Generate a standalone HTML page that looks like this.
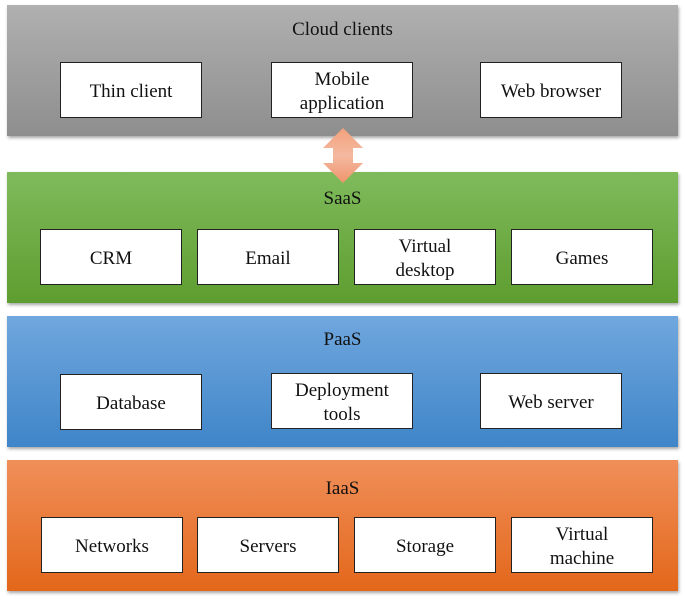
<!DOCTYPE html>
<html><head><style>
body{margin:0;width:685px;height:600px;background:#fff;position:relative;overflow:hidden;font-family:"Liberation Serif","Times New Roman","DejaVu Serif",serif;}
.l{position:absolute;left:7px;width:671px;height:131px;box-shadow:1px 2px 3px rgba(0,0,0,0.35);}
.t{position:absolute;left:0;width:100%;text-align:center;font-size:19px;color:#111;}
.b{position:absolute;width:140px;height:54px;padding-top:3px;box-sizing:content-box;background:#fff;border:1px solid #222;display:flex;align-items:center;justify-content:center;text-align:center;font-size:19px;line-height:24px;color:#111;}
</style></head><body>
<div class="l" style="top:5px;background:linear-gradient(#b0b0b0,#8e8e8e)">
 <div class="t" style="top:14px">Cloud clients</div>
</div>
<div class="l" style="top:172px;background:linear-gradient(#7fbb5c,#5e9d2f)">
 <div class="t" style="top:16px">SaaS</div>
</div>
<div class="l" style="top:316px;background:linear-gradient(#70a7de,#3f85c8)">
 <div class="t" style="top:13px">PaaS</div>
</div>
<div class="l" style="top:460px;background:linear-gradient(#f08f5a,#e3671a)">
 <div class="t" style="top:18px">IaaS</div>
</div>
<div class="b" style="left:60px;top:62px;height:51px">Thin client</div>
<div class="b" style="left:271px;top:62px;height:51px">Mobile<br>application</div>
<div class="b" style="left:480px;top:62px;height:51px">Web browser</div>
<div class="b" style="left:40px;top:229px;height:51px">CRM</div>
<div class="b" style="left:197px;top:229px;height:51px">Email</div>
<div class="b" style="left:354px;top:229px;height:51px">Virtual<br>desktop</div>
<div class="b" style="left:511px;top:229px;height:51px">Games</div>
<div class="b" style="left:60px;top:374px;height:51px">Database</div>
<div class="b" style="left:271px;top:373px;height:51px">Deployment<br>tools</div>
<div class="b" style="left:480px;top:373px;height:51px">Web server</div>
<div class="b" style="left:41px;top:517px;height:51px">Networks</div>
<div class="b" style="left:197px;top:517px;height:51px">Servers</div>
<div class="b" style="left:354px;top:517px;height:51px">Storage</div>
<div class="b" style="left:511px;top:517px;height:51px">Virtual<br>machine</div>
<svg style="position:absolute;left:0;top:0" width="685" height="600">
<defs><linearGradient id="g" x1="0" y1="0" x2="0" y2="1"><stop offset="0" stop-color="#f3a17c"/><stop offset="0.5" stop-color="#f4b9a0"/><stop offset="1" stop-color="#f0956c"/></linearGradient></defs>
<polygon points="343,128 363,148 353,148 353,163 363,163 343,183 323,163 333,163 333,148 323,148" fill="url(#g)"/>
</svg>
</body></html>
